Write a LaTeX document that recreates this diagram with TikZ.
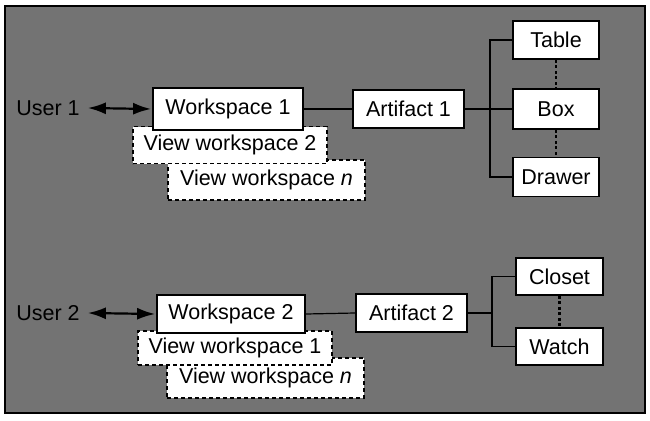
\documentclass[tikz,border=0pt]{standalone}
\usepackage{fontspec}
\setmainfont{Liberation Sans}
\usetikzlibrary{arrows.meta}
\begin{document}
\begin{tikzpicture}[x=1pt,y=-1pt,
  every node/.style={font=\fontsize{21.5}{25}\selectfont, inner sep=0pt},
  solidbox/.style={draw=black, line width=1.8pt, fill=white, minimum width=#1},
  viewbox/.style={draw=black, line width=1.2pt, dash pattern=on 4pt off 3pt, fill=white, minimum width=#1},
  conn/.style={draw=black, line width=1.2pt},
  dots/.style={draw=black, line width=2.4pt, dash pattern=on 3pt off 2.5pt},
  dbl/.style={draw=black, line width=2.2pt, {Latex[length=18pt,width=12pt]}-{Latex[length=18pt,width=12pt]}}
]
\useasboundingbox (0,0) rectangle (650,420);
\fill[white] (0,0) rectangle (650,420);
\fill[black!55] (5,6) rectangle (645,413);
\draw[line width=1.8pt] (5,6) rectangle (645,413);

% ---- top half ----
\node[viewbox=197, minimum height=40] (vwn1) at (266.5,180) {\raisebox{-4pt}{View workspace \textit{n}}};
\node[viewbox=194, minimum height=37] (vw2) at (230,145) {\raisebox{-1pt}{View workspace 2}};
\node[solidbox=150, minimum height=42] (ws1) at (228,109) {Workspace 1};
\node (u1) at (48,108) {User 1};
\node[solidbox=111, minimum height=38] (a1) at (408.5,109) {Artifact 1};
\node[solidbox=86, minimum height=38] (table) at (556,40) {Table};
\node[solidbox=86, minimum height=40] (box) at (556,109) {Box};
\node[solidbox=86, minimum height=39] (drawer) at (556,177) {Drawer};
\coordinate (b1) at (490,109);

\draw[dbl] ([xshift=8pt]u1.east) -- ([xshift=-1pt]ws1.west);
\draw[conn] (ws1.east) -- (a1.west);
\draw[conn] (a1.east) -- (box.west);
\draw[conn] (table.west) -| (b1) |- (drawer.west);
\draw[dots] (table.south) -- (box.north);
\draw[dots] (box.south) -- (drawer.north);

% ---- bottom half ----
\node[viewbox=197, minimum height=40] (vwn2) at (265.5,378) {\raisebox{-4pt}{View workspace \textit{n}}};
\node[viewbox=194, minimum height=34] (vw1) at (235,348) {\raisebox{-1pt}{View workspace 1}};
\node[solidbox=148, minimum height=38] (ws2) at (231,314) {Workspace 2};
\node (u2) at (48,313) {User 2};
\node[solidbox=111, minimum height=38] (a2) at (411.5,313) {Artifact 2};
\node[solidbox=87, minimum height=37] (closet) at (559.5,276.5) {Closet};
\node[solidbox=87, minimum height=37] (watch) at (559.5,346.5) {Watch};
\coordinate (b2) at (492,313);

\draw[dbl] ([xshift=8pt]u2.east) -- ([xshift=-1pt]ws2.west);
\draw[conn] (ws2.east) -- (a2.west);
\draw[conn] (a2.east) -- (b2);
\draw[conn] (closet.west) -| (b2) |- (watch.west);
\draw[dots] (closet.south) -- (watch.north);
\end{tikzpicture}
\end{document}
